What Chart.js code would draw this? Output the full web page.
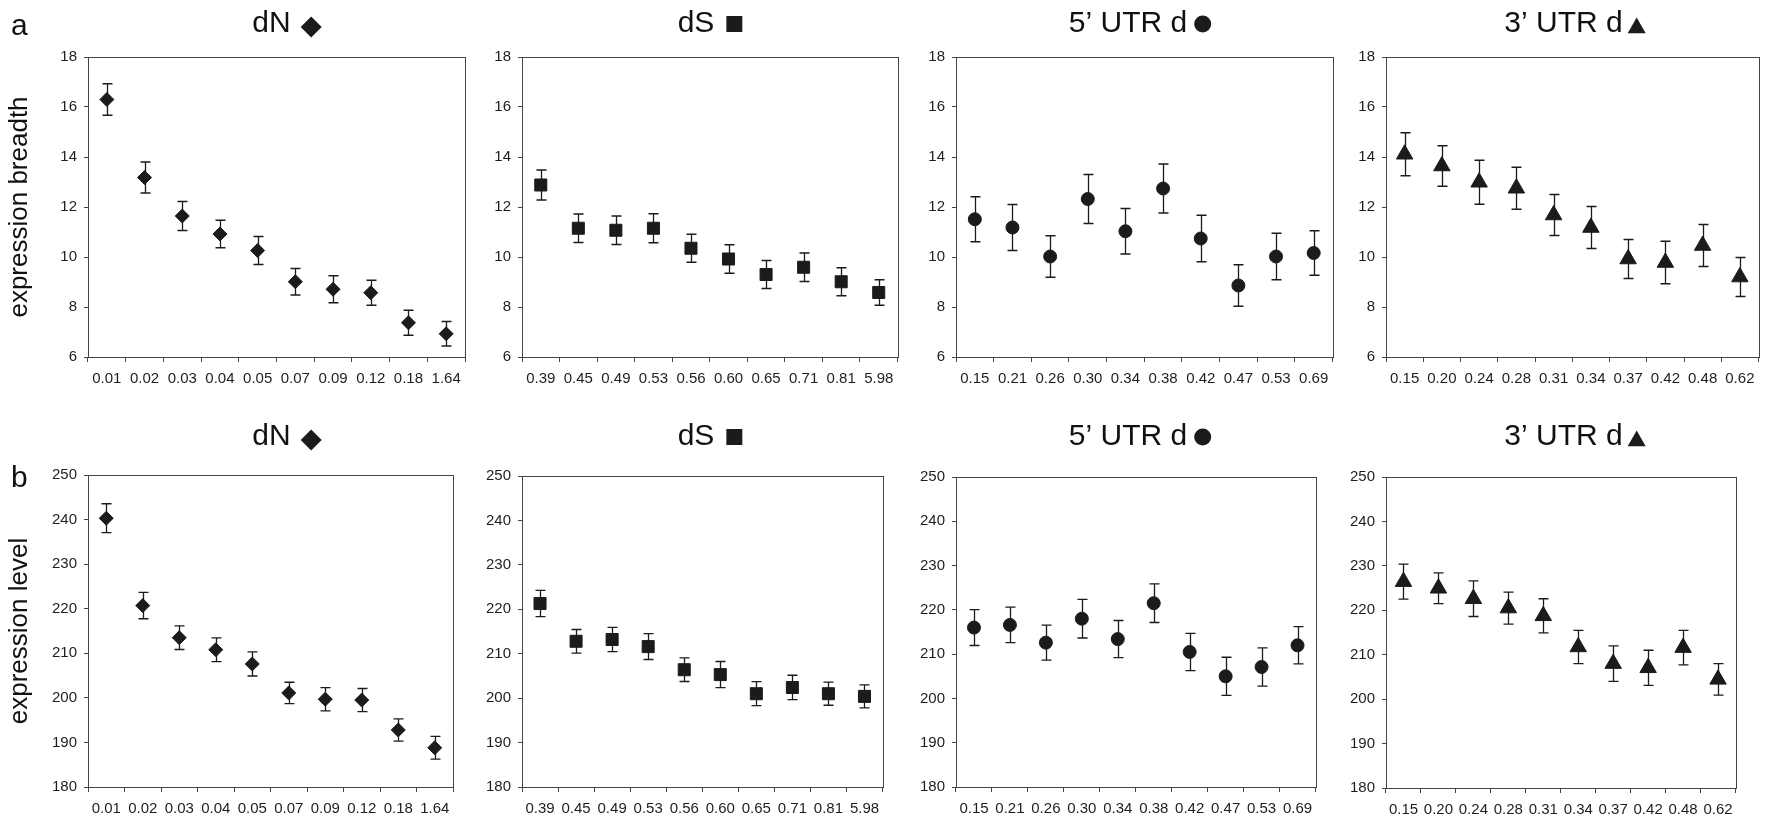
<!DOCTYPE html>
<html>
<head>
<meta charset="utf-8">
<script src="https://cdn.jsdelivr.net/npm/chart.js@4.4.1/dist/chart.umd.min.js"></script>
<style>
  html, body { margin: 0; padding: 0; background: #fff; }
  #fig { position: relative; width: 1769px; height: 823px; overflow: hidden; }
  #fig canvas { position: absolute; }
</style>
</head>
<body>
<div id="fig"></div>
<script>
// categories (divergence bins)
const dNLabels   = ['0.01','0.02','0.03','0.04','0.05','0.07','0.09','0.12','0.18','1.64'];
const dSLabels   = ['0.39','0.45','0.49','0.53','0.56','0.60','0.65','0.71','0.81','5.98'];
const utr5Labels = ['0.15','0.21','0.26','0.30','0.34','0.38','0.42','0.47','0.53','0.69'];
const utr3Labels = ['0.15','0.20','0.24','0.28','0.31','0.34','0.37','0.42','0.48','0.62'];

// a: expression breadth (mean, +/- error)
const breadthDN    = [16.30, 13.18, 11.64, 10.92, 10.26, 9.01, 8.71, 8.57, 7.37, 6.93];
const breadthDNErr = [0.63, 0.62, 0.58, 0.55, 0.56, 0.53, 0.54, 0.50, 0.50, 0.49];
const breadthDS    = [12.88, 11.15, 11.07, 11.15, 10.35, 9.92, 9.30, 9.59, 9.01, 8.58];
const breadthDSErr = [0.60, 0.57, 0.57, 0.58, 0.56, 0.57, 0.56, 0.57, 0.56, 0.51];
const breadth5     = [11.51, 11.18, 10.02, 12.32, 11.03, 12.74, 10.74, 8.86, 10.02, 10.16];
const breadth5Err  = [0.90, 0.92, 0.83, 0.98, 0.91, 0.98, 0.93, 0.83, 0.93, 0.89];
const breadth3     = [14.11, 13.64, 12.99, 12.75, 11.68, 11.18, 9.92, 9.78, 10.46, 9.20];
const breadth3Err  = [0.86, 0.81, 0.88, 0.84, 0.82, 0.84, 0.78, 0.85, 0.84, 0.78];

// b: expression level (mean, +/- error)
const levelDN    = [240.3, 220.7, 213.5, 210.8, 207.6, 201.1, 199.7, 199.5, 192.8, 188.8];
const levelDNErr = [3.25, 2.95, 2.65, 2.65, 2.70, 2.40, 2.60, 2.60, 2.50, 2.55];
const levelDS    = [221.3, 212.8, 213.2, 211.6, 206.4, 205.3, 201.0, 202.4, 201.0, 200.4];
const levelDSErr = [2.95, 2.65, 2.75, 2.90, 2.65, 2.95, 2.70, 2.75, 2.60, 2.60];
const level5     = [216.0, 216.6, 212.6, 218.0, 213.4, 221.5, 210.5, 205.0, 207.1, 212.0];
const level5Err  = [4.05, 4.00, 3.95, 4.35, 4.20, 4.35, 4.20, 4.30, 4.30, 4.20];
const level3     = [226.45, 224.95, 222.6, 220.5, 218.75, 211.75, 208.0, 207.05, 211.6, 204.45];
const level3Err  = [3.95, 3.45, 4.00, 3.60, 3.85, 3.75, 4.00, 3.95, 3.90, 3.55];

// axis ranges
const breadthTicks = { min: 6, max: 18, step: 2 };
const levelTicks   = { min: 180, max: 250, step: 10 };

const FONT = '"Liberation Sans", Arial, Helvetica, sans-serif';
const INK = '#1b1b1b';
const AXIS = '#444';

// error bars, drawn through the chart's own scales
const errorBars = {
  id: 'errorBars',
  beforeDatasetsDraw(chart) {
    const ctx = chart.ctx;
    const x = chart.scales.x, y = chart.scales.y;
    chart.data.datasets.forEach(ds => {
      if (!ds.errors) return;
      ctx.save();
      ctx.strokeStyle = INK;
      ctx.lineWidth = 1.3;
      ds.data.forEach((v, i) => {
        const px = Math.round(x.getPixelForValue(i)) + 0.5;
        const top = y.getPixelForValue(v + ds.errors[i]);
        const bot = y.getPixelForValue(v - ds.errors[i]);
        ctx.beginPath();
        ctx.moveTo(px, top); ctx.lineTo(px, bot);
        ctx.moveTo(px - 5, top); ctx.lineTo(px + 5, top);
        ctx.moveTo(px - 5, bot); ctx.lineTo(px + 5, bot);
        ctx.stroke();
      });
      ctx.restore();
    });
  }
};

// box round the plot area
const frame = {
  id: 'frame',
  afterDraw(chart) {
    const a = chart.chartArea, ctx = chart.ctx;
    ctx.save();
    ctx.strokeStyle = AXIS;
    ctx.lineWidth = 1;
    ctx.strokeRect(Math.round(a.left) + 0.5, Math.round(a.top) + 0.5,
                   Math.round(a.right - a.left), Math.round(a.bottom - a.top));
    ctx.restore();
  }
};

// panel title: text followed by the panel's marker symbol
const titleMarks = {
  rectRot:  { r: 10.5, w: 21, dy: 5, gap: 10 },
  rect:     { r: 11.3, w: 16, dy: 8, gap: 12 },
  circle:   { r: 8.5,  w: 17, dy: 8, gap: 7 },
  triangle: { r: 10.4, w: 18, dy: 4, gap: 5 }
};
const panelTitle = {
  id: 'panelTitle',
  afterDraw(chart, args, o) {
    const ctx = chart.ctx;
    const m = titleMarks[o.marker];
    ctx.save();
    ctx.font = '30px ' + FONT;
    ctx.fillStyle = '#111';
    ctx.textAlign = 'left';
    ctx.textBaseline = 'alphabetic';
    const tw = ctx.measureText(o.text).width;
    const x0 = o.cx - (tw + m.gap + m.w) / 2;
    ctx.fillText(o.text, x0, o.baseline);
    ctx.fillStyle = INK;
    Chart.helpers.drawPoint(ctx, { pointStyle: o.marker, radius: m.r, rotation: 0, borderWidth: 0 },
      x0 + tw + m.gap + m.w / 2, o.baseline - m.dy);
    if (o.letter) {
      ctx.fillStyle = '#111';
      ctx.fillText(o.letter, 11, o.letterBase);
    }
    ctx.restore();
  }
};

const rows = [
  { top: 0,   baseline: 32, letter: 'a', letterBase: 35, ytitle: 'expression breadth', ticks: breadthTicks },
  { top: 400, baseline: 45, letter: 'b', letterBase: 87, ytitle: 'expression level',   ticks: levelTicks }
];

const panels = [
  { row: 0, title: 'dN',       labels: dNLabels,   values: breadthDN, errors: breadthDNErr, style: 'rectRot',  r: 7,   titleX: 287, box: [88, 471, 57, 357] },
  { row: 0, title: 'dS',       labels: dSLabels,   values: breadthDS, errors: breadthDSErr, style: 'rect',     r: 8.5, titleX: 710, box: [522, 905, 57, 357] },
  { row: 0, title: '5’ UTR d', labels: utr5Labels, values: breadth5,  errors: breadth5Err,  style: 'circle',   r: 6.5, titleX: 1140, box: [956, 1338, 57, 357] },
  { row: 0, title: '3’ UTR d', labels: utr3Labels, values: breadth3,  errors: breadth3Err,  style: 'triangle', r: 9.5, titleX: 1575, box: [1386, 1767, 57, 357] },
  { row: 1, title: 'dN',       labels: dNLabels,   values: levelDN,   errors: levelDNErr,   style: 'rectRot',  r: 7,   titleX: 287, box: [88, 459, 475, 787] },
  { row: 1, title: 'dS',       labels: dSLabels,   values: levelDS,   errors: levelDSErr,   style: 'rect',     r: 8.5, titleX: 710, box: [522, 890, 476, 787] },
  { row: 1, title: '5’ UTR d', labels: utr5Labels, values: level5,    errors: level5Err,    style: 'circle',   r: 6.5, titleX: 1140, box: [956, 1321, 477, 787] },
  { row: 1, title: '3’ UTR d', labels: utr3Labels, values: level3,    errors: level3Err,    style: 'triangle', r: 9.5, titleX: 1575, box: [1386, 1744, 477, 788] }
];

const fig = document.getElementById('fig');
const X_H = 45, RIGHT_PAD = 2;

panels.forEach(p => {
  const row = rows[p.row];
  const [L, R, T, B] = p.box;
  const first = L < 200;
  const yw = first ? L : 55;
  const left = L - yw;
  const width = yw + (R - L) + RIGHT_PAD;
  const titleBlock = T - row.top;
  const height = titleBlock + (B - T) + X_H;

  const canvas = document.createElement('canvas');
  canvas.width = width;
  canvas.height = height;
  canvas.style.left = left + 'px';
  canvas.style.top = row.top + 'px';
  fig.appendChild(canvas);

  new Chart(canvas.getContext('2d'), {
    type: 'line',
    data: {
      labels: p.labels,
      datasets: [{
        data: p.values,
        errors: p.errors,
        showLine: false,
        pointStyle: p.style,
        pointRadius: p.r,
        pointBackgroundColor: INK,
        pointBorderColor: INK,
        pointBorderWidth: 1
      }]
    },
    options: {
      responsive: false,
      animation: false,
      events: [],
      layout: { padding: { left: 0, right: RIGHT_PAD, top: titleBlock, bottom: 0 } },
      plugins: {
        legend: { display: false },
        tooltip: { enabled: false },
        title: { display: false },
        panelTitle: {
          text: p.title,
          marker: p.style,
          cx: p.titleX - left,
          baseline: row.baseline,
          letter: first ? row.letter : '',
          letterBase: row.letterBase
        }
      },
      scales: {
        x: {
          type: 'category',
          offset: true,
          grid: { offset: true, drawOnChartArea: false, drawTicks: true, tickLength: 5, color: AXIS },
          border: { color: AXIS, width: 1 },
          ticks: { color: '#1e1e1e', font: { family: FONT, size: 15 }, padding: 8, maxRotation: 0, autoSkip: false },
          afterFit: s => { s.height = X_H; }
        },
        y: {
          min: row.ticks.min,
          max: row.ticks.max,
          grid: { drawOnChartArea: false, drawTicks: true, tickLength: 4, color: AXIS },
          border: { color: AXIS, width: 1 },
          ticks: { stepSize: row.ticks.step, color: '#1e1e1e', font: { family: FONT, size: 15 }, padding: 7 },
          title: {
            display: first,
            text: row.ytitle,
            color: '#111',
            font: { family: FONT, size: 26 },
            padding: { top: 4, bottom: 0 }
          },
          afterFit: s => { s.width = yw; }
        }
      }
    },
    plugins: [errorBars, frame, panelTitle]
  });
});
</script>
</body>
</html>
